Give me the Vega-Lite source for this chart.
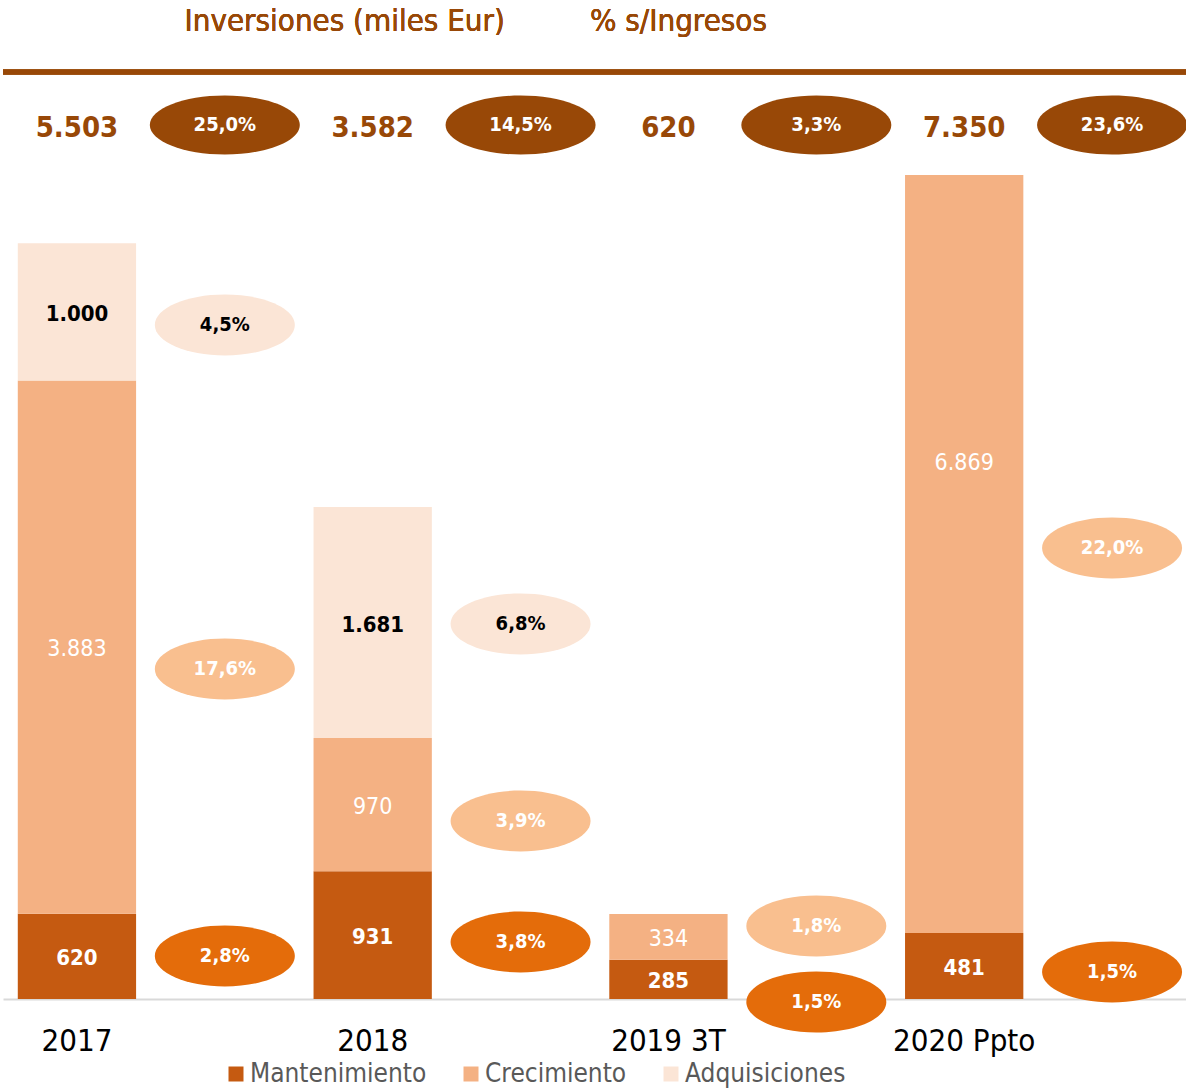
{
  "$schema": "https://vega.github.io/schema/vega-lite/v6.json",
  "width": 1183,
  "height": 824,
  "autosize": {"type": "none"},
  "padding": {"left": 3, "top": 175, "right": 0, "bottom": 89},
  "config": {
    "view": {"stroke": null},
    "font": "DejaVu Sans Condensed",
    "locale": {"number": {"decimal": ",", "thousands": ".", "grouping": [3], "currency": ["", " €"]}},
    "legend": {
      "orient": "none", "legendX": 220, "legendY": 886, "direction": "horizontal",
      "padding": 0, "symbolType": "square", "symbolSize": 225, "symbolStrokeWidth": 0,
      "labelFontSize": 26, "labelColor": "#595959", "labelFont": "DejaVu Sans Condensed", "labelLimit": 0,
      "columnPadding": 31, "labelOffset": 1, "title": null
    }
  },
  "datasets": {
    "barras": [
      {"cat": "2017", "serie": "Mantenimiento", "valor": 620},
      {"cat": "2017", "serie": "Crecimiento", "valor": 3883},
      {"cat": "2017", "serie": "Adquisiciones", "valor": 1000},
      {"cat": "2018", "serie": "Mantenimiento", "valor": 931},
      {"cat": "2018", "serie": "Crecimiento", "valor": 970},
      {"cat": "2018", "serie": "Adquisiciones", "valor": 1681},
      {"cat": "2019 3T", "serie": "Mantenimiento", "valor": 285},
      {"cat": "2019 3T", "serie": "Crecimiento", "valor": 334},
      {"cat": "2020 Ppto", "serie": "Mantenimiento", "valor": 481},
      {"cat": "2020 Ppto", "serie": "Crecimiento", "valor": 6869}
    ],
    "porcentajes": [
      {"catp": "%2017", "serie": "Mantenimiento", "pct": 0.028, "ancla": 313},
      {"catp": "%2017", "serie": "Crecimiento", "pct": 0.176, "ancla": 2403},
      {"catp": "%2017", "serie": "Adquisiciones", "pct": 0.045, "ancla": 4908},
      {"catp": "%2018", "serie": "Mantenimiento", "pct": 0.038, "ancla": 415},
      {"catp": "%2018", "serie": "Crecimiento", "pct": 0.039, "ancla": 1296},
      {"catp": "%2018", "serie": "Adquisiciones", "pct": 0.068, "ancla": 2731},
      {"catp": "%2019", "serie": "Mantenimiento", "pct": 0.015, "ancla": -22},
      {"catp": "%2019", "serie": "Crecimiento", "pct": 0.018, "ancla": 532},
      {"catp": "%2020", "serie": "Mantenimiento", "pct": 0.015, "ancla": 197},
      {"catp": "%2020", "serie": "Crecimiento", "pct": 0.22, "ancla": 3284}
    ],
    "totales": [
      {"cat": "2017", "catp": "%2017", "total": 5503, "pct": 0.25, "ancla": 6364},
      {"cat": "2018", "catp": "%2018", "total": 3582, "pct": 0.145, "ancla": 6364},
      {"cat": "2019 3T", "catp": "%2019", "total": 620, "pct": 0.033, "ancla": 6364},
      {"cat": "2020 Ppto", "catp": "%2020", "total": 7350, "pct": 0.236, "ancla": 6364}
    ]
  },
  "layer": [
    {
      "data": {"name": "barras"},
      "transform": [
        {"stack": "valor", "groupby": ["cat"], "sort": [{"field": "serie", "order": "descending"}], "as": ["v0", "v1"]},
        {"calculate": "(datum.v0 + datum.v1) / 2", "as": "medio"}
      ],
      "layer": [
        {
          "mark": {"type": "bar", "clip": true},
          "encoding": {
            "x": {
              "field": "cat", "type": "nominal",
              "scale": {"domain": ["2017", "%2017", "2018", "%2018", "2019 3T", "%2019", "2020 Ppto", "%2020"], "paddingInner": 0.2, "paddingOuter": 0.1},
              "axis": {
                "title": null, "labelAngle": 0, "ticks": false, "domainColor": "#D9D9D9", "domainWidth": 2,
                "labelFontSize": 31, "labelColor": "#000000", "labelFont": "DejaVu Sans Condensed", "labelPadding": 27,
                "labelExpr": "substring(datum.label, 0, 1) === '%' ? '' : datum.label"
              }
            },
            "y": {"field": "v1", "type": "quantitative", "scale": {"domain": [0, 6000], "nice": false, "zero": false}, "axis": null},
            "y2": {"field": "v0"},
            "color": {
              "field": "serie", "type": "nominal",
              "scale": {"domain": ["Mantenimiento", "Crecimiento", "Adquisiciones"], "range": ["#C55A11", "#F4B183", "#FBE5D6"]},
              "legend": {}
            }
          }
        },
        {
          "transform": [{"filter": "datum.serie === 'Mantenimiento'"}],
          "mark": {"type": "text", "fontSize": 22, "fontWeight": "bold", "color": "#FFFFFF", "dy": 2},
          "encoding": {
            "x": {"field": "cat", "type": "nominal"},
            "y": {"field": "medio", "type": "quantitative"},
            "text": {"field": "valor", "type": "quantitative", "format": ",.0f"}
          }
        },
        {
          "transform": [{"filter": "datum.serie === 'Crecimiento'"}],
          "mark": {"type": "text", "fontSize": 23, "color": "#FFFFFF", "dy": 2},
          "encoding": {
            "x": {"field": "cat", "type": "nominal"},
            "y": {"field": "medio", "type": "quantitative"},
            "text": {"field": "valor", "type": "quantitative", "format": ",.0f"}
          }
        },
        {
          "transform": [{"filter": "datum.serie === 'Adquisiciones'"}],
          "mark": {"type": "text", "fontSize": 22, "fontWeight": "bold", "color": "#000000", "dy": 2},
          "encoding": {
            "x": {"field": "cat", "type": "nominal"},
            "y": {"field": "medio", "type": "quantitative"},
            "text": {"field": "valor", "type": "quantitative", "format": ",.0f"}
          }
        }
      ]
    },
    {
      "data": {"name": "porcentajes"},
      "layer": [
        {
          "mark": {"type": "point", "filled": true, "opacity": 1, "size": 19600, "shape": "M-1,0A1,0.435,0,1,0,1,0A1,0.435,0,1,0,-1,0Z", "strokeWidth": 0},
          "encoding": {
            "x": {"field": "catp", "type": "nominal"},
            "y": {"field": "ancla", "type": "quantitative"},
            "fill": {
              "condition": [
                {"test": "datum.serie === 'Mantenimiento'", "value": "#E46C0A"},
                {"test": "datum.serie === 'Crecimiento'", "value": "#F9BF8F"}
              ],
              "value": "#FBE5D6"
            }
          }
        },
        {
          "mark": {"type": "text", "fontSize": 20, "fontWeight": "bold"},
          "encoding": {
            "x": {"field": "catp", "type": "nominal"},
            "y": {"field": "ancla", "type": "quantitative"},
            "text": {"field": "pct", "type": "quantitative", "format": ".1%"},
            "color": {
              "condition": {"test": "datum.serie === 'Adquisiciones'", "value": "#000000"},
              "value": "#FFFFFF"
            }
          }
        }
      ]
    },
    {
      "data": {"name": "totales"},
      "layer": [
        {
          "mark": {"type": "point", "filled": true, "opacity": 1, "size": 22500, "shape": "M-1,0A1,0.393,0,1,0,1,0A1,0.393,0,1,0,-1,0Z", "strokeWidth": 0, "color": "#984807"},
          "encoding": {
            "x": {"field": "catp", "type": "nominal"},
            "y": {"field": "ancla", "type": "quantitative"}
          }
        },
        {
          "mark": {"type": "text", "fontSize": 20, "fontWeight": "bold", "color": "#FFFFFF"},
          "encoding": {
            "x": {"field": "catp", "type": "nominal"},
            "y": {"field": "ancla", "type": "quantitative"},
            "text": {"field": "pct", "type": "quantitative", "format": ".1%"}
          }
        },
        {
          "mark": {"type": "text", "fontSize": 29, "fontWeight": "bold", "color": "#984807", "dy": 3},
          "encoding": {
            "x": {"field": "cat", "type": "nominal"},
            "y": {"field": "ancla", "type": "quantitative"},
            "text": {"field": "total", "type": "quantitative", "format": ",.0f"}
          }
        },
        {
          "mark": {"type": "rule", "color": "#984807", "strokeWidth": 5},
          "encoding": {"y": {"datum": 6750, "type": "quantitative"}}
        },
        {
          "mark": {"type": "text", "fontSize": 31, "color": "#984807", "dx": -28},
          "encoding": {
            "x": {"datum": "2018", "type": "nominal"},
            "y": {"datum": 7114, "type": "quantitative"},
            "text": {"value": "Inversiones (miles Eur)"}
          }
        },
        {
          "mark": {"type": "text", "fontSize": 31, "color": "#984807", "dx": 10},
          "encoding": {
            "x": {"datum": "2019 3T", "type": "nominal"},
            "y": {"datum": 7114, "type": "quantitative"},
            "text": {"value": "% s/Ingresos"}
          }
        }
      ]
    }
  ]
}
